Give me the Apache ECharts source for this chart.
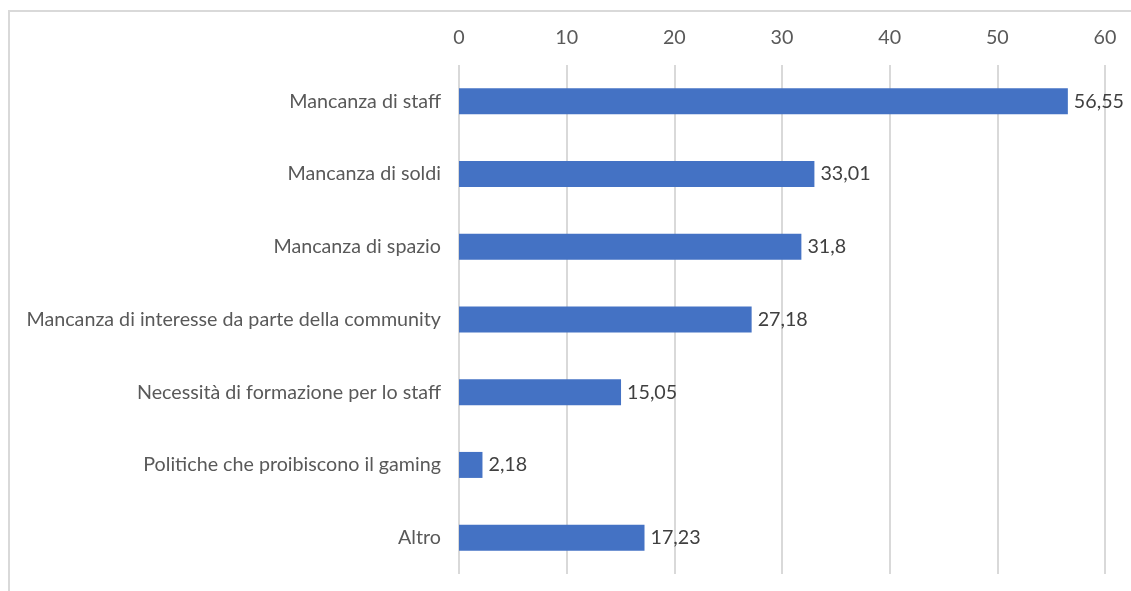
<!DOCTYPE html>
<html>
<head>
<meta charset="utf-8">
<script src="https://cdn.jsdelivr.net/npm/echarts@6/dist/echarts.min.js"></script>
<style>
html,body{margin:0;padding:0;background:#fff;}
#c{width:1131px;height:591px;}
</style>
</head>
<body>
<div id="c"></div>
<script>
const categories = [
  "Mancanza di staff",
  "Mancanza di soldi",
  "Mancanza di spazio",
  "Mancanza di interesse da parte della community",
  "Necessità di formazione per lo staff",
  "Politiche che proibiscono il gaming",
  "Altro"
];
const values = [56.55, 33.01, 31.8, 27.18, 15.05, 2.18, 17.23];
const labelTexts = ["56,55", "33,01", "31,8", "27,18", "15,05", "2,18", "17,23"];

const FONT = 'Lato, Open Sans, sans-serif';
const chart = echarts.init(document.getElementById('c'), null, {renderer: 'canvas'});
chart.setOption({
  animation: false,
  backgroundColor: '#ffffff',
  graphic: [{
    type: 'rect',
    shape: {x: 9, y: 11, width: 1300, height: 800},
    style: {fill: 'none', stroke: '#d9d9d9', lineWidth: 2},
    silent: true
  }],
  grid: {left: 459, right: 26, top: 65, bottom: 17, containLabel: false},
  xAxis: {
    type: 'value',
    position: 'top',
    min: 0,
    max: 60,
    interval: 10,
    axisLine: {show: false},
    axisTick: {show: false},
    axisLabel: {color: '#595959', fontSize: 19.7, fontFamily: FONT, margin: 17},
    splitLine: {show: true, lineStyle: {color: '#d9d9d9', width: 2}}
  },
  yAxis: {
    type: 'category',
    inverse: true,
    data: categories,
    axisLine: {show: false},
    axisTick: {show: false},
    axisLabel: {color: '#595959', fontSize: 19.7, fontFamily: FONT, margin: 18}
  },
  series: [{
    type: 'bar',
    data: values,
    barWidth: 26,
    itemStyle: {color: '#4472c4'},
    label: {
      show: true,
      position: 'right',
      distance: 6,
      color: '#404040',
      fontSize: 19.7,
      fontFamily: FONT,
      formatter: p => labelTexts[p.dataIndex]
    }
  }]
});
</script>
</body>
</html>
